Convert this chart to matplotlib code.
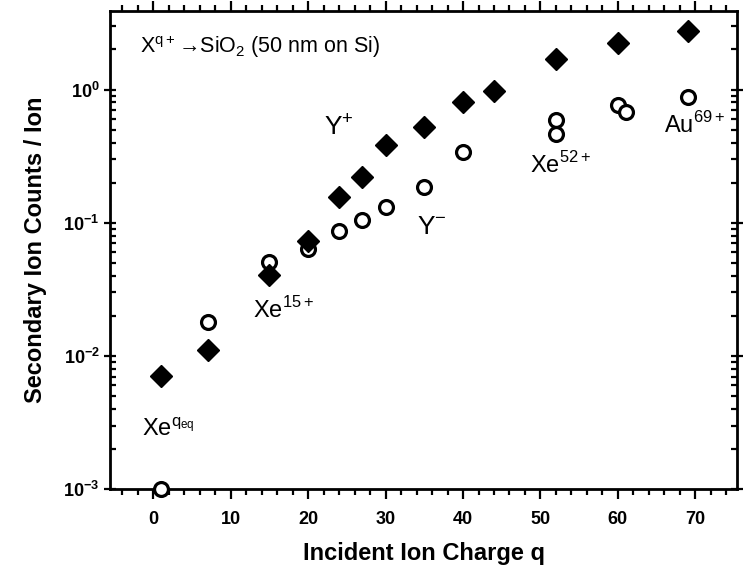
import numpy as np
import matplotlib
matplotlib.use("Agg")
import matplotlib.pyplot as plt
from matplotlib.ticker import MultipleLocator, LogLocator, NullFormatter

plt.rcParams['font.family'] = ['Liberation Sans', 'DejaVu Sans']
plt.rcParams['mathtext.fontset'] = 'custom'
plt.rcParams['mathtext.rm'] = 'Liberation Sans'
plt.rcParams['mathtext.bf'] = 'Liberation Sans:bold'

# Y+ (positive secondary ions), filled diamonds
q_pos = [1, 7, 15, 20, 24, 27, 30, 35, 40, 44, 52, 60, 69]
y_pos = [0.0071, 0.0111, 0.0407, 0.073, 0.155, 0.222, 0.386, 0.525, 0.81, 0.98, 1.71, 2.22, 2.73]

# Y- (negative secondary ions), open circles
q_neg = [1, 7, 15, 20, 24, 27, 30, 35, 40, 52, 52, 60, 61, 69]
y_neg = [0.001, 0.018, 0.051, 0.064, 0.086, 0.105, 0.132, 0.187, 0.342, 0.59, 0.46, 0.76, 0.68, 0.885]

x_ticks = [0, 10, 20, 30, 40, 50, 60, 70]
y_ticks = [1e-3, 1e-2, 1e-1, 1e0]
y_tick_labels = [r'$\mathbf{10^{-3}}$', r'$\mathbf{10^{-2}}$', r'$\mathbf{10^{-1}}$', r'$\mathbf{10^{0}}$']

fig = plt.figure(figsize=(7.46, 5.71), dpi=100)
ax = fig.add_axes([0.1475, 0.1435, 0.8405, 0.8375])

ax.plot(q_neg, y_neg, 'o', ms=10, mfc='white', mec='black', mew=2.3, clip_on=False, zorder=3)
ax.plot(q_pos, y_pos, 'D', ms=11.5, color='black', clip_on=False, zorder=4)

ax.set_yscale('log')
ax.set_xlim(-5.6, 75.4)
ax.set_ylim(1e-3, 3.9)

ax.xaxis.set_minor_locator(MultipleLocator(2))
ax.set_xticks(x_ticks)
ax.set_xticklabels([str(t) for t in x_ticks], fontweight='bold', fontsize=13)
ax.set_yticks(y_ticks)
ax.set_yticklabels(y_tick_labels, fontsize=13)
ax.yaxis.set_minor_locator(LogLocator(base=10, subs=np.arange(2, 10)))
ax.yaxis.set_minor_formatter(NullFormatter())

ax.tick_params(which='both', top=True, right=True, width=1.6)
ax.tick_params(axis='x', which='major', direction='out', length=7, pad=9)
ax.tick_params(axis='x', which='minor', direction='out', length=4)
ax.tick_params(axis='y', which='major', direction='inout', length=9, pad=3)
ax.tick_params(axis='y', which='minor', direction='in', length=4)
for side in ['left', 'right', 'top', 'bottom']:
    ax.spines[side].set_linewidth(2)

ax.set_xlabel('Incident Ion Charge q', fontsize=17, fontweight='bold', labelpad=10)
ax.set_ylabel('Secondary Ion Counts / Ion', fontsize=17, fontweight='bold', labelpad=12)

ax.text(-1.7, 2.1, r'X$^{\mathrm{q+}}$' + '\u2192' + r'SiO$_2$ (50 nm on Si)',
        fontsize=15.5, ha='left', va='center')
ax.text(24.0, 0.53, r'Y$^{+}$', fontsize=19, ha='center', va='center')
ax.text(36.0, 0.093, r'Y$^{-}$', fontsize=19, ha='center', va='center')
ax.text(52.6, 0.27, r'Xe$^{52+}$', fontsize=17, ha='center', va='center')
ax.text(70.0, 0.545, r'Au$^{69+}$', fontsize=17, ha='center', va='center')
ax.text(16.8, 0.0222, r'Xe$^{15+}$', fontsize=17, ha='center', va='center')
ax.text(1.9, 0.0028, r'Xe$^{\mathrm{q_{eq}}}$', fontsize=17, ha='center', va='center')

fig.savefig('out.png', dpi=100)
